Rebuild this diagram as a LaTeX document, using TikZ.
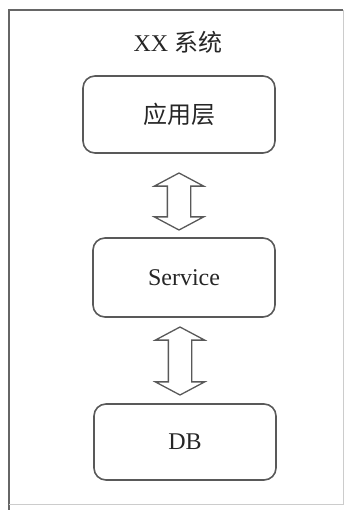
\documentclass[tikz,border=0pt]{standalone}
\usepackage{fontspec}
\setmainfont{Liberation Serif}
\newfontfamily\cjk{Noto Sans CJK SC}
\usetikzlibrary{shapes.arrows}

\begin{document}
\begin{tikzpicture}[
    x=1pt, y=-1pt,
    layer/.style={rectangle, draw=black!65, line width=1.6pt, rounded corners=12pt,
                  font=\fontsize{24}{28}\selectfont, text=black!85},
    link/.style={double arrow, draw=black!65, line width=1.3pt, rotate=90, inner sep=11pt,
                 double arrow head extend=13pt, double arrow tip angle=124},
    frameline/.style={line width=1.6pt, draw=black!60}
]
    \useasboundingbox (0,0) rectangle (346,510);
    \draw[frameline] (9,510) -- (9,10) -- (343,10);
    \draw[frameline, draw=black!20, line width=1pt] (343,10) -- (343,504) -- (9,504);

    \node[font=\fontsize{24}{28}\selectfont, text=black!85] (title) at (178,42) {XX {\cjk 系统}};
    \node[layer, minimum width=192pt, minimum height=77pt] (app) at (179,114.5) {\cjk 应用层};
    \node[layer, minimum width=182pt, minimum height=79pt] (svc) at (184,277.5) {Service};
    \node[layer, minimum width=182pt, minimum height=76pt] (db)  at (185,442)   {DB};

    \node[link, minimum height=57pt] (link1) at (179,201.5) {};
    \node[link, minimum height=68pt] (link2) at (180,361)   {};
\end{tikzpicture}
\end{document}
